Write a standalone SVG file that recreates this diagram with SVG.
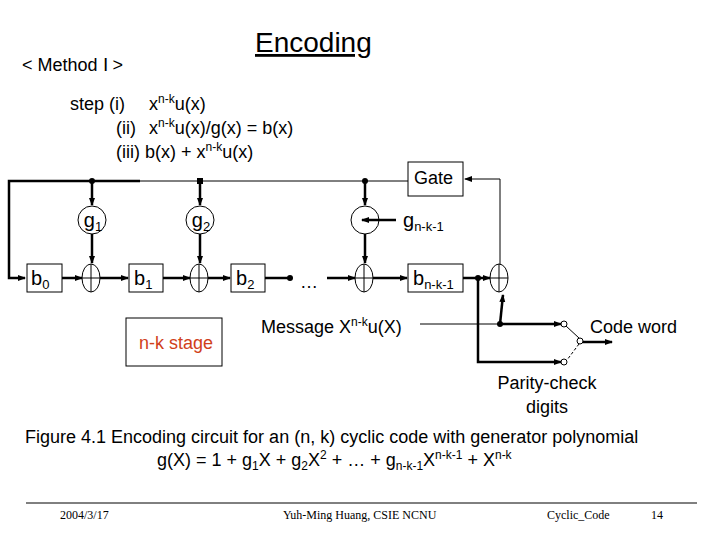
<svg xmlns="http://www.w3.org/2000/svg" width="720" height="540" viewBox="0 0 720 540">
<defs>
<marker id="a" markerWidth="8" markerHeight="8" refX="7" refY="4" orient="auto" markerUnits="userSpaceOnUse"><path d="M0,1 L8,4 L0,7z" fill="#000"/></marker>
<style>
text{font-family:"Liberation Sans",Arial,sans-serif;fill:#000}
.t{font-size:18px}
.l{stroke:#000;stroke-width:2.5;fill:none}
.n{stroke:#000;stroke-width:1;fill:none}
.b{fill:#fff;stroke:#000;stroke-width:1}
</style>
</defs>
<rect width="720" height="540" fill="#fff"/>
<text x="255" y="52" font-size="28" text-decoration="underline">Encoding</text>
<text x="22" y="71" class="t">&lt; Method Ⅰ &gt;</text>
<text x="70" y="110" class="t">step (i)</text>
<text x="149" y="110" class="t">x<tspan font-size="12" dy="-7">n-k</tspan><tspan dy="7">u(x)</tspan></text>
<text x="116" y="134" class="t">(ii)</text>
<text x="149" y="134" class="t">x<tspan font-size="12" dy="-7">n-k</tspan><tspan dy="7">u(x)/g(x) = b(x)</tspan></text>
<text x="116" y="158" class="t">(iii) b(x) + x<tspan font-size="12" dy="-7">n-k</tspan><tspan dy="7">u(x)</tspan></text>
<g id="connectors">
<path class="l" d="M92,181 H9 V278 H25" marker-end="url(#a)"/>
<path class="l" d="M92,181 H140"/>
<path class="n" d="M92,181 H408"/>
<path class="l" d="M92,181 V205" marker-end="url(#a)"/>
<path class="l" d="M200,181 V205" marker-end="url(#a)"/>
<path class="l" d="M365,181 V205" marker-end="url(#a)"/>
<path class="l" d="M92,234 V263" marker-end="url(#a)"/>
<path class="l" d="M200,234 V263" marker-end="url(#a)"/>
<path class="l" d="M365,234 V263" marker-end="url(#a)"/>
<path class="l" d="M62,278 H82" marker-end="url(#a)"/>
<path class="l" d="M100,278 H128" marker-end="url(#a)"/>
<path class="l" d="M163,278 H190" marker-end="url(#a)"/>
<path class="l" d="M208,278 H230" marker-end="url(#a)"/>
<path class="l" d="M265,278 H290"/>
<path class="l" d="M327,278 H355" marker-end="url(#a)"/>
<path class="l" d="M373,278 H407" marker-end="url(#a)"/>
<path class="l" d="M463,278 H490" marker-end="url(#a)"/>
<path class="n" d="M500,264 V179 H465" marker-end="url(#a)"/>
<path class="l" d="M478,278 V362 H561" marker-end="url(#a)"/>
<path class="n" d="M420,324 H500"/>
<path class="l" d="M500,324 H561" marker-end="url(#a)"/>
<path class="l" d="M500,324 L503,295" marker-end="url(#a)"/>
<path class="n" d="M566,326 L579,338"/>
<path class="n" d="M579,344 L567,360" stroke-dasharray="3,2"/>
<path class="l" d="M583,342 H612" marker-end="url(#a)"/>
<circle cx="92" cy="181" r="3"/><rect x="197" y="178" width="6" height="6"/><circle cx="365" cy="181" r="3"/>
<circle cx="290" cy="278" r="3"/><circle cx="478" cy="278" r="3"/><circle cx="500" cy="324" r="3"/>
<circle cx="564" cy="324" r="3" class="b"/><circle cx="564" cy="362" r="3" class="b"/><circle cx="580" cy="341" r="3" class="b"/>
</g>
<g id="b0"><rect class="b" x="27" y="264" width="35" height="28"/><text x="31" y="285" font-size="20">b<tspan font-size="13" dy="4">0</tspan></text></g>
<g id="b1"><rect class="b" x="129" y="264" width="34" height="28"/><text x="134" y="285" font-size="20">b<tspan font-size="13" dy="4">1</tspan></text></g>
<g id="b2"><rect class="b" x="231" y="264" width="34" height="28"/><text x="236" y="285" font-size="20">b<tspan font-size="13" dy="4">2</tspan></text></g>
<g id="bn"><rect class="b" x="408" y="264" width="55" height="28"/><text x="413" y="285" font-size="20">b<tspan font-size="13" dy="4">n-k-1</tspan></text></g>
<g id="gate"><rect class="b" x="408" y="162" width="55" height="34"/><text x="414" y="184" font-size="18">Gate</text></g>
<g id="g1"><circle class="b" cx="92" cy="220" r="14"/><text x="93" y="227" font-size="20" text-anchor="middle">g<tspan font-size="13" dy="4">1</tspan></text></g>
<g id="g2"><circle class="b" cx="200" cy="220" r="14"/><text x="201" y="227" font-size="20" text-anchor="middle">g<tspan font-size="13" dy="4">2</tspan></text></g>
<g id="gn"><circle class="b" cx="365" cy="220" r="14"/><path class="l" d="M396,220 H362" marker-end="url(#a)"/><text x="403" y="227" font-size="20">g<tspan font-size="13" dy="4">n-k-1</tspan></text></g>
<g id="add1"><ellipse class="b" cx="91" cy="278" rx="9" ry="14"/><path class="n" d="M82,278 H100 M91,264 V292"/></g>
<g id="add2"><ellipse class="b" cx="199" cy="278" rx="9" ry="14"/><path class="n" d="M190,278 H208 M199,264 V292"/></g>
<g id="add3"><ellipse class="b" cx="364" cy="278" rx="9" ry="14"/><path class="n" d="M355,278 H373 M364,264 V292"/></g>
<g id="add4"><ellipse class="b" cx="499" cy="278" rx="9" ry="14"/><path class="n" d="M490,278 H508 M499,264 V292"/></g>
<text x="300" y="288" font-size="18">…</text>
<g id="stage"><rect class="b" x="126" y="318" width="96" height="48"/><text x="139" y="349" font-size="18" style="fill:#d0401a">n-k stage</text></g>
<text x="261" y="333" class="t">Message X<tspan font-size="12" dy="-7">n-k</tspan><tspan dy="7">u(X)</tspan></text>
<text x="590" y="333" class="t">Code word</text>
<text x="547" y="389" class="t" text-anchor="middle">Parity-check</text>
<text x="547" y="413" class="t" text-anchor="middle">digits</text>
<text x="25" y="443" class="t">Figure 4.1 Encoding circuit for an (n, k) cyclic code with generator polynomial</text>
<text x="157" y="466" class="t">g(X) = 1 + g<tspan font-size="12" dy="4">1</tspan><tspan dy="-4">X + g</tspan><tspan font-size="12" dy="4">2</tspan><tspan dy="-4">X</tspan><tspan font-size="12" dy="-7">2</tspan><tspan dy="7"> + … + g</tspan><tspan font-size="12" dy="4">n-k-1</tspan><tspan dy="-4">X</tspan><tspan font-size="12" dy="-7">n-k-1</tspan><tspan dy="7"> + X</tspan><tspan font-size="12" dy="-7">n-k</tspan></text>
<path d="M26,503 H697" stroke="#000" stroke-width="1"/>
<text x="60" y="519" font-size="12" style="font-family:'Liberation Serif',serif">2004/3/17</text>
<text x="283" y="519" font-size="12" style="font-family:'Liberation Serif',serif">Yuh-Ming Huang, CSIE NCNU</text>
<text x="547" y="519" font-size="12" style="font-family:'Liberation Serif',serif">Cyclic_Code</text>
<text x="651" y="519" font-size="12" style="font-family:'Liberation Serif',serif">14</text>
</svg>
